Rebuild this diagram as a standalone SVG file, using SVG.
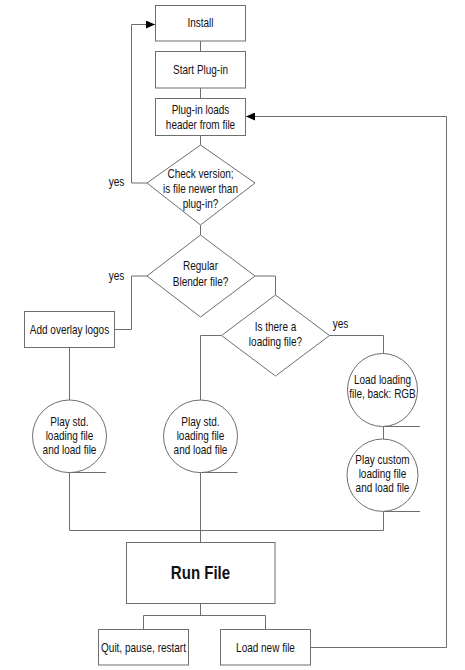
<svg xmlns="http://www.w3.org/2000/svg" width="465" height="670" viewBox="0 0 465 670">
<style>
.n{fill:#fff;stroke:#6e6e6e;stroke-width:1}
.c line,.c polyline{fill:none;stroke:#6e6e6e;stroke-width:1}
.t{stroke:#6e6e6e;stroke-width:1}
text{font-family:"Liberation Sans",Arial,sans-serif;font-size:12.5px;fill:#111;text-anchor:middle}
.big{font-size:17.5px;font-weight:bold}
</style>
<defs>
<marker id="ah" markerWidth="9" markerHeight="8" refX="9" refY="4" orient="auto" markerUnits="userSpaceOnUse">
<path d="M0,0 L9,4 L0,8 Z" fill="#000"/>
</marker>
</defs>
<rect width="465" height="670" fill="#fff"/>
<g class="c" id="connectors">
<line x1="200.5" y1="41" x2="200.5" y2="51"/>
<line x1="200.5" y1="88" x2="200.5" y2="98"/>
<line x1="200.5" y1="136" x2="200.5" y2="145"/>
<line x1="200.5" y1="225" x2="200.5" y2="235"/>
<polyline points="147,183 131.5,183 131.5,24.5 155,24.5" marker-end="url(#ah)"/>
<polyline points="147,276 131.5,276 131.5,329.5 114.5,329.5"/>
<polyline points="255,276 275.5,276 275.5,295"/>
<polyline points="221.5,335.5 200.5,335.5 200.5,400"/>
<polyline points="329.5,335.5 383.5,335.5 383.5,353.5"/>
<line x1="383.5" y1="426.5" x2="383.5" y2="439"/>
<line x1="69.5" y1="347.5" x2="69.5" y2="400"/>
<polyline points="69.5,472.5 69.5,530.5 383.5,530.5 383.5,511.5"/>
<line x1="200.5" y1="472.5" x2="200.5" y2="542.5"/>
<line x1="200.5" y1="603.5" x2="200.5" y2="615.5"/>
<polyline points="143.5,629.5 143.5,615.5 265.5,615.5 265.5,629.5"/>
<polyline points="310.5,647.5 446.5,647.5 446.5,116.5 246,116.5" marker-end="url(#ah)"/>
</g>
<g id="install"><rect class="n" x="155.5" y="5.5" width="90" height="35.5"/><text x="0" y="27.5" transform="translate(200.5,0) scale(0.8,1)">Install</text></g>
<g id="start"><rect class="n" x="155.5" y="51.5" width="90" height="36.5"/><text x="0" y="74" transform="translate(200.5,0) scale(0.8,1)">Start Plug-in</text></g>
<g id="header"><rect class="n" x="155.5" y="98.5" width="90" height="37"/><text x="0" y="114" transform="translate(200.5,0) scale(0.8,1)">Plug-in loads</text><text x="0" y="129" transform="translate(200.5,0) scale(0.8,1)">header from file</text></g>
<g id="checkversion"><polygon class="n" points="200.5,145 255,183 200.5,225 147,183"/><text x="0" y="178.5" transform="translate(200.5,0) scale(0.8,1)">Check version;</text><text x="0" y="193" transform="translate(200.5,0) scale(0.8,1)">is file newer than</text><text x="0" y="208" transform="translate(200.5,0) scale(0.8,1)">plug-in?</text></g>
<g id="yes1"><text x="0" y="186" transform="translate(116.5,0) scale(0.8,1)">yes</text></g>
<g id="regular"><polygon class="n" points="200.5,235 255,276 200.5,317 147,276"/><text x="0" y="270.5" transform="translate(200.5,0) scale(0.8,1)">Regular</text><text x="0" y="285.5" transform="translate(200.5,0) scale(0.8,1)">Blender file?</text></g>
<g id="yes2"><text x="0" y="280.5" transform="translate(116.5,0) scale(0.8,1)">yes</text></g>
<g id="overlay"><rect class="n" x="24.5" y="311.5" width="90" height="36"/><text x="0" y="334" transform="translate(69.5,0) scale(0.8,1)">Add overlay logos</text></g>
<g id="loadingq"><polygon class="n" points="275.5,295 329.5,335.5 275.5,376 221.5,335.5"/><text x="0" y="331" transform="translate(275.5,0) scale(0.8,1)">Is there a</text><text x="0" y="346" transform="translate(275.5,0) scale(0.8,1)">loading file?</text></g>
<g id="yes3"><text x="0" y="328.5" transform="translate(340.5,0) scale(0.8,1)">yes</text></g>
<g id="playstd1"><ellipse class="n" cx="69.5" cy="436.3" rx="37" ry="36.3"/><line class="t" x1="69.5" y1="472.5" x2="106" y2="472.5"/><text x="0" y="426" transform="translate(69.5,0) scale(0.8,1)">Play std.</text><text x="0" y="440" transform="translate(69.5,0) scale(0.8,1)">loading file</text><text x="0" y="454" transform="translate(69.5,0) scale(0.8,1)">and load file</text></g>
<g id="playstd2"><ellipse class="n" cx="200.5" cy="436.3" rx="37" ry="36.3"/><line class="t" x1="200.5" y1="472.5" x2="237.5" y2="472.5"/><text x="0" y="426" transform="translate(200.5,0) scale(0.8,1)">Play std.</text><text x="0" y="440" transform="translate(200.5,0) scale(0.8,1)">loading file</text><text x="0" y="454" transform="translate(200.5,0) scale(0.8,1)">and load file</text></g>
<g id="loadloading"><ellipse class="n" cx="382.5" cy="390" rx="35" ry="36.5"/><line class="t" x1="383.5" y1="426.5" x2="420" y2="426.5"/><text x="0" y="384.5" transform="translate(382.5,0) scale(0.8,1)">Load loading</text><text x="0" y="398.5" transform="translate(382.5,0) scale(0.8,1)">file, back: RGB</text></g>
<g id="playcustom"><ellipse class="n" cx="382.5" cy="475.2" rx="35.5" ry="36.2"/><line class="t" x1="383.5" y1="511.5" x2="420" y2="511.5"/><text x="0" y="464.5" transform="translate(382.5,0) scale(0.8,1)">Play custom</text><text x="0" y="478.5" transform="translate(382.5,0) scale(0.8,1)">loading file</text><text x="0" y="492.5" transform="translate(382.5,0) scale(0.8,1)">and load file</text></g>
<g id="runfile"><rect class="n" x="126.5" y="542.5" width="148.5" height="61"/><text class="big" x="0" y="579.5" transform="translate(200.5,0) scale(0.86,1)">Run File</text></g>
<g id="quit"><rect class="n" x="98.5" y="629.5" width="90" height="35.5"/><text x="0" y="652" transform="translate(143.5,0) scale(0.8,1)">Quit, pause, restart</text></g>
<g id="loadnew"><rect class="n" x="220.5" y="629.5" width="90" height="35.5"/><text x="0" y="652" transform="translate(265.5,0) scale(0.8,1)">Load new file</text></g>
</svg>
